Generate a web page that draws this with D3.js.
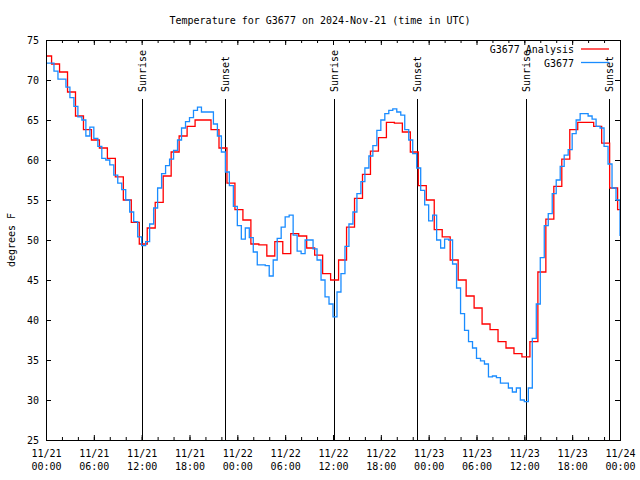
<!DOCTYPE html>
<html>
<head>
<meta charset="utf-8">
<script src="https://cdn.jsdelivr.net/npm/d3@7"></script>
<style>
  body { margin: 0; background: #fff; }
  text { font-family: "DejaVu Sans Mono", monospace; font-size: 10px; fill: #000; }
</style>
</head>
<body>
<svg id="chart" width="640" height="480"></svg>
<script>
const titleText = "Temperature for G3677 on 2024-Nov-21 (time in UTC)"
const yLabel = "degrees F"
const startTime = "2024-11-21T00:00:00Z"
const endTime = "2024-11-24T00:00:00Z"
const yTicks = [25, 30, 35, 40, 45, 50, 55, 60, 65, 70, 75]

// station obs, one value every 30 min from startTime
const obsStepMin = 30
const obsTemps = [
  72.1, 72.1, 71.1, 70.1, 70.1, 69.1, 67.8, 66.7, 65.4, 65.0, 63.0, 64.1,
  62.7, 61.7, 60.2, 60.0, 59.4, 58.1, 57.1, 56.3, 55.0, 53.5, 52.3, 50.4,
  49.3, 49.8, 52.0, 54.0, 56.5, 58.3, 59.3, 60.1, 61.2, 62.5, 64.0, 64.8,
  65.3, 66.2, 66.6, 66.0, 66.0, 66.0, 64.5, 63.0, 61.0, 58.5, 56.8, 54.2,
  51.8, 50.1, 51.5, 50.3, 48.5, 46.9, 46.9, 46.8, 45.5, 47.5, 50.2, 51.6,
  52.9, 53.1, 50.6, 48.6, 48.3, 50.0, 50.0, 48.9, 47.5, 45.0, 42.9, 42.0,
  40.4, 43.5, 45.8, 49.2, 52.0, 53.5, 55.8, 57.3, 59.0, 60.5, 61.8, 63.7,
  65.0, 65.8, 66.2, 66.4, 66.0, 65.6, 63.8, 62.5, 60.8, 59.0, 56.2, 54.4,
  52.4, 53.1, 50.0, 49.0, 50.1, 50.0, 47.0, 44.0, 40.8, 38.7, 37.3, 36.5,
  35.2, 34.9, 34.5, 32.9, 33.0, 32.8, 32.1, 32.1, 31.5, 31.0, 31.5, 30.0,
  29.8, 31.5, 37.7, 42.0, 47.8, 51.8, 53.3, 55.8, 57.5, 59.2, 60.6, 61.3,
  63.3, 65.0, 65.8, 65.8, 65.5, 65.1, 64.2, 64.0, 61.7, 59.5, 56.5, 55.0,
  50.5
]

// analysis, hourly, each value starts 18 min before its hour (first one at start)
const anaStepMin = 60
const anaOffsetMin = -18
const anaTemps = [
  73.0, 72.0, 71.0, 68.5, 65.5, 63.8, 62.5, 61.5, 60.2, 57.9, 55.0, 52.2,
  49.5, 51.5, 54.7, 58.0, 61.0, 63.0, 64.2, 65.0, 65.0, 63.8, 61.5, 57.1,
  53.8, 52.5, 49.5, 49.4, 48.0, 49.8, 48.3, 50.8, 50.5, 49.0, 48.1, 45.8,
  45.0, 47.5, 51.6, 55.2, 58.2, 61.1, 62.8, 64.7, 64.6, 63.5, 61.0, 56.8,
  55.0, 51.3, 50.4, 47.5, 45.0, 43.0, 41.5, 39.5, 38.8, 37.3, 36.5, 35.8,
  35.4, 37.3, 46.0, 52.6, 56.7, 60.1, 63.8, 64.7, 64.7, 64.2, 62.1, 56.5,
  53.8
]

const sunLabels = ["Sunrise", "Sunset", "Sunrise", "Sunset", "Sunrise", "Sunset"]
const sunTimes = ["2024-11-21T12:05Z", "2024-11-21T22:29Z", "2024-11-22T12:10Z",
                  "2024-11-22T22:35Z", "2024-11-23T12:15Z", "2024-11-23T22:40Z"]

const seriesNames = ["G3677 Analysis", "G3677"]
const seriesColors = ["#ff0000", "#1a8cff"]

const svg = d3.select("#chart")
const mLeft = 46, mRight = 620, mTop = 40, mBottom = 440

const t0 = new Date(startTime)
const t1 = new Date(endTime)
const x = d3.scaleUtc().domain([t0, t1]).range([mLeft, mRight])
const y = d3.scaleLinear().domain([25, 75]).range([mBottom, mTop])

const addMin = (d, m) => new Date(d.getTime() + m * 60000)

const obs = obsTemps.map((v, i) => ({ t: addMin(t0, i * obsStepMin), v }))
const ana = anaTemps.map((v, i) => ({ t: i === 0 ? t0 : addMin(t0, i * anaStepMin + anaOffsetMin), v }))
ana.push({ t: t1, v: anaTemps[anaTemps.length - 1] })

// title
svg.append("text")
  .attr("x", 320).attr("y", 24)
  .attr("text-anchor", "middle")
  .text(titleText)

// y label
svg.append("text")
  .attr("transform", "translate(15,240) rotate(-90)")
  .attr("text-anchor", "middle")
  .text(yLabel)

const noDomain = g => g.select(".domain").remove()

// minor x ticks, bottom and top
svg.append("g").attr("transform", `translate(0,${mBottom})`)
  .call(d3.axisBottom(x).ticks(d3.utcHour.every(2)).tickSize(-3).tickFormat(""))
  .call(noDomain)
svg.append("g").attr("transform", `translate(0,${mTop})`)
  .call(d3.axisTop(x).ticks(d3.utcHour.every(2)).tickSize(-3).tickFormat(""))
  .call(noDomain)

// major x ticks with 2-line labels
const fmtDay = d3.utcFormat("%m/%d")
const fmtHour = d3.utcFormat("%H:%M")
const xAxis = svg.append("g").attr("transform", `translate(0,${mBottom})`)
  .call(d3.axisBottom(x).ticks(d3.utcHour.every(6)).tickSize(-5).tickPadding(10).tickFormat(fmtDay))
  .call(noDomain)
xAxis.selectAll(".tick text").each(function (d) {
  const t = d3.select(this).text(null).attr("dy", "0.71em")
  t.append("tspan").attr("x", 0).text(fmtDay(d))
  t.append("tspan").attr("x", 0).attr("dy", 13).text(fmtHour(d))
})
svg.append("g").attr("transform", `translate(0,${mTop})`)
  .call(d3.axisTop(x).ticks(d3.utcHour.every(6)).tickSize(-5).tickFormat(""))
  .call(noDomain)

// y ticks, left with labels and mirrored on right
svg.append("g").attr("transform", `translate(${mLeft},0)`)
  .call(d3.axisLeft(y).tickValues(yTicks).tickSize(-5).tickPadding(7).tickFormat(d3.format("d")))
  .call(noDomain)
svg.append("g").attr("transform", `translate(${mRight},0)`)
  .call(d3.axisRight(y).tickValues(yTicks).tickSize(-5).tickFormat(""))
  .call(noDomain)

svg.selectAll(".tick line").attr("stroke", "#000")
svg.selectAll(".tick text").attr("fill", "#000").style("font-size", "10px")
  .style("font-family", '"DejaVu Sans Mono", monospace')

// sunrise / sunset markers
sunTimes.forEach((s, i) => {
  const sx = Math.round(x(new Date(s))) + 0.5
  svg.append("line")
    .attr("x1", sx).attr("x2", sx)
    .attr("y1", 99).attr("y2", mBottom)
    .attr("stroke", "#000").attr("stroke-width", 1)
  svg.append("text")
    .attr("transform", `translate(${sx},92) rotate(-90)`)
    .attr("dy", "0.35em")
    .text(sunLabels[i])
})

// data lines
svg.append("clipPath").attr("id", "plot-clip")
  .append("rect").attr("x", mLeft).attr("y", mTop).attr("width", mRight - mLeft).attr("height", mBottom - mTop)

const line = d3.line()
  .x(d => x(d.t))
  .y(d => y(d.v))
  .curve(d3.curveStepAfter)

const plot = svg.append("g").attr("clip-path", "url(#plot-clip)")
plot.append("path").datum(ana)
  .attr("d", line).attr("fill", "none")
  .attr("stroke", seriesColors[0]).attr("stroke-width", 1.3)
plot.append("path").datum(obs)
  .attr("d", line).attr("fill", "none")
  .attr("stroke", seriesColors[1]).attr("stroke-width", 1.3)

// border
svg.append("rect")
  .attr("x", mLeft + 0.5).attr("y", mTop + 0.5)
  .attr("width", mRight - mLeft).attr("height", mBottom - mTop)
  .attr("fill", "none").attr("stroke", "#000")

// legend
seriesNames.forEach((name, i) => {
  const ly = 49 + i * 13.5
  svg.append("text")
    .attr("x", 574).attr("y", ly + 4)
    .attr("text-anchor", "end")
    .text(name)
  svg.append("line")
    .attr("x1", 581).attr("x2", 609)
    .attr("y1", ly).attr("y2", ly)
    .attr("stroke", seriesColors[i]).attr("stroke-width", 1.3)
})
</script>
</body>
</html>
